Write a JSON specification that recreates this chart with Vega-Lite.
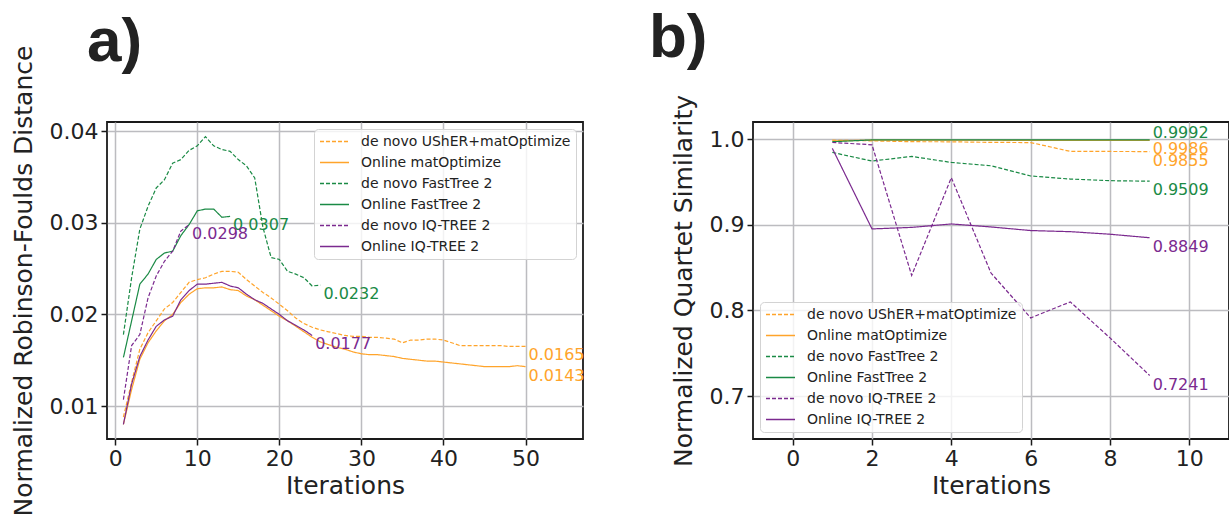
{
  "$schema": "https://vega.github.io/schema/vega-lite/v6.json",
  "background": "white",
  "padding": {"left": 10, "top": 5, "right": 0, "bottom": 0},
  "config": {
    "font": "DejaVu Sans",
    "view": {"stroke": "#1a1a1a", "strokeWidth": 1.8},
    "axis": {
      "labelFont": "DejaVu Sans", "labelFontSize": 22, "labelColor": "#222222",
      "titleFont": "DejaVu Sans", "titleFontSize": 25, "titleFontWeight": "normal", "titleColor": "#222222",
      "gridColor": "#bcbcc0", "gridWidth": 1.5, "gridOpacity": 1,
      "domain": false, "tickColor": "#1a1a1a", "tickWidth": 1.5, "tickSize": 6,
      "labelPadding": 3, "labelFlush": false, "labelOverlap": false, "labelBound": false
    },
    "axisY": {"titlePadding": 13},
    "axisX": {"titlePadding": 4},
    "legend": {
      "labelFont": "DejaVu Sans", "labelFontSize": 14, "labelColor": "#222222", "labelLimit": 400,
      "symbolType": "stroke", "symbolSize": 841, "symbolStrokeWidth": 1.5,
      "strokeColor": "#d3d3d3", "fillColor": "rgba(255,255,255,0.8)", "cornerRadius": 4,
      "padding": 5, "rowPadding": 6, "clipHeight": 15, "labelOffset": 11, "offset": 7
    }
  },
  "datasets": {
    "rf": [
      {"series": "de novo UShER+matOptimize", "iter": 1, "value": 0.0088},
      {"series": "de novo UShER+matOptimize", "iter": 2, "value": 0.0126},
      {"series": "de novo UShER+matOptimize", "iter": 3, "value": 0.0162},
      {"series": "de novo UShER+matOptimize", "iter": 4, "value": 0.0180},
      {"series": "de novo UShER+matOptimize", "iter": 5, "value": 0.0193},
      {"series": "de novo UShER+matOptimize", "iter": 6, "value": 0.0206},
      {"series": "de novo UShER+matOptimize", "iter": 7, "value": 0.0213},
      {"series": "de novo UShER+matOptimize", "iter": 8, "value": 0.0224},
      {"series": "de novo UShER+matOptimize", "iter": 9, "value": 0.0235},
      {"series": "de novo UShER+matOptimize", "iter": 10, "value": 0.0238},
      {"series": "de novo UShER+matOptimize", "iter": 11, "value": 0.0240},
      {"series": "de novo UShER+matOptimize", "iter": 12, "value": 0.0244},
      {"series": "de novo UShER+matOptimize", "iter": 13, "value": 0.0247},
      {"series": "de novo UShER+matOptimize", "iter": 14, "value": 0.0247},
      {"series": "de novo UShER+matOptimize", "iter": 15, "value": 0.0246},
      {"series": "de novo UShER+matOptimize", "iter": 16, "value": 0.0238},
      {"series": "de novo UShER+matOptimize", "iter": 17, "value": 0.0231},
      {"series": "de novo UShER+matOptimize", "iter": 18, "value": 0.0224},
      {"series": "de novo UShER+matOptimize", "iter": 19, "value": 0.0218},
      {"series": "de novo UShER+matOptimize", "iter": 20, "value": 0.0211},
      {"series": "de novo UShER+matOptimize", "iter": 21, "value": 0.0204},
      {"series": "de novo UShER+matOptimize", "iter": 22, "value": 0.0196},
      {"series": "de novo UShER+matOptimize", "iter": 23, "value": 0.0190},
      {"series": "de novo UShER+matOptimize", "iter": 24, "value": 0.0186},
      {"series": "de novo UShER+matOptimize", "iter": 25, "value": 0.0183},
      {"series": "de novo UShER+matOptimize", "iter": 26, "value": 0.0181},
      {"series": "de novo UShER+matOptimize", "iter": 27, "value": 0.0179},
      {"series": "de novo UShER+matOptimize", "iter": 28, "value": 0.0177},
      {"series": "de novo UShER+matOptimize", "iter": 29, "value": 0.0176},
      {"series": "de novo UShER+matOptimize", "iter": 30, "value": 0.0176},
      {"series": "de novo UShER+matOptimize", "iter": 31, "value": 0.0175},
      {"series": "de novo UShER+matOptimize", "iter": 32, "value": 0.0175},
      {"series": "de novo UShER+matOptimize", "iter": 33, "value": 0.0174},
      {"series": "de novo UShER+matOptimize", "iter": 34, "value": 0.0173},
      {"series": "de novo UShER+matOptimize", "iter": 35, "value": 0.0169},
      {"series": "de novo UShER+matOptimize", "iter": 36, "value": 0.0172},
      {"series": "de novo UShER+matOptimize", "iter": 37, "value": 0.0172},
      {"series": "de novo UShER+matOptimize", "iter": 38, "value": 0.0173},
      {"series": "de novo UShER+matOptimize", "iter": 39, "value": 0.0173},
      {"series": "de novo UShER+matOptimize", "iter": 40, "value": 0.0172},
      {"series": "de novo UShER+matOptimize", "iter": 41, "value": 0.0169},
      {"series": "de novo UShER+matOptimize", "iter": 42, "value": 0.0166},
      {"series": "de novo UShER+matOptimize", "iter": 43, "value": 0.0166},
      {"series": "de novo UShER+matOptimize", "iter": 44, "value": 0.0166},
      {"series": "de novo UShER+matOptimize", "iter": 45, "value": 0.0166},
      {"series": "de novo UShER+matOptimize", "iter": 46, "value": 0.0166},
      {"series": "de novo UShER+matOptimize", "iter": 47, "value": 0.0166},
      {"series": "de novo UShER+matOptimize", "iter": 48, "value": 0.0165},
      {"series": "de novo UShER+matOptimize", "iter": 49, "value": 0.0165},
      {"series": "de novo UShER+matOptimize", "iter": 50, "value": 0.0165},
      {"series": "Online matOptimize", "iter": 1, "value": 0.0080},
      {"series": "Online matOptimize", "iter": 2, "value": 0.0118},
      {"series": "Online matOptimize", "iter": 3, "value": 0.0151},
      {"series": "Online matOptimize", "iter": 4, "value": 0.0169},
      {"series": "Online matOptimize", "iter": 5, "value": 0.0182},
      {"series": "Online matOptimize", "iter": 6, "value": 0.0193},
      {"series": "Online matOptimize", "iter": 7, "value": 0.0200},
      {"series": "Online matOptimize", "iter": 8, "value": 0.0213},
      {"series": "Online matOptimize", "iter": 9, "value": 0.0222},
      {"series": "Online matOptimize", "iter": 10, "value": 0.0228},
      {"series": "Online matOptimize", "iter": 11, "value": 0.0229},
      {"series": "Online matOptimize", "iter": 12, "value": 0.0229},
      {"series": "Online matOptimize", "iter": 13, "value": 0.0230},
      {"series": "Online matOptimize", "iter": 14, "value": 0.0227},
      {"series": "Online matOptimize", "iter": 15, "value": 0.0226},
      {"series": "Online matOptimize", "iter": 16, "value": 0.0220},
      {"series": "Online matOptimize", "iter": 17, "value": 0.0216},
      {"series": "Online matOptimize", "iter": 18, "value": 0.0210},
      {"series": "Online matOptimize", "iter": 19, "value": 0.0204},
      {"series": "Online matOptimize", "iter": 20, "value": 0.0198},
      {"series": "Online matOptimize", "iter": 21, "value": 0.0193},
      {"series": "Online matOptimize", "iter": 22, "value": 0.0187},
      {"series": "Online matOptimize", "iter": 23, "value": 0.0181},
      {"series": "Online matOptimize", "iter": 24, "value": 0.0175},
      {"series": "Online matOptimize", "iter": 25, "value": 0.0170},
      {"series": "Online matOptimize", "iter": 26, "value": 0.0167},
      {"series": "Online matOptimize", "iter": 27, "value": 0.0164},
      {"series": "Online matOptimize", "iter": 28, "value": 0.0162},
      {"series": "Online matOptimize", "iter": 29, "value": 0.0159},
      {"series": "Online matOptimize", "iter": 30, "value": 0.0157},
      {"series": "Online matOptimize", "iter": 31, "value": 0.0156},
      {"series": "Online matOptimize", "iter": 32, "value": 0.0156},
      {"series": "Online matOptimize", "iter": 33, "value": 0.0155},
      {"series": "Online matOptimize", "iter": 34, "value": 0.0154},
      {"series": "Online matOptimize", "iter": 35, "value": 0.0152},
      {"series": "Online matOptimize", "iter": 36, "value": 0.0151},
      {"series": "Online matOptimize", "iter": 37, "value": 0.0150},
      {"series": "Online matOptimize", "iter": 38, "value": 0.0149},
      {"series": "Online matOptimize", "iter": 39, "value": 0.0149},
      {"series": "Online matOptimize", "iter": 40, "value": 0.0148},
      {"series": "Online matOptimize", "iter": 41, "value": 0.0147},
      {"series": "Online matOptimize", "iter": 42, "value": 0.0146},
      {"series": "Online matOptimize", "iter": 43, "value": 0.0145},
      {"series": "Online matOptimize", "iter": 44, "value": 0.0144},
      {"series": "Online matOptimize", "iter": 45, "value": 0.0143},
      {"series": "Online matOptimize", "iter": 46, "value": 0.0143},
      {"series": "Online matOptimize", "iter": 47, "value": 0.0143},
      {"series": "Online matOptimize", "iter": 48, "value": 0.0143},
      {"series": "Online matOptimize", "iter": 49, "value": 0.0144},
      {"series": "Online matOptimize", "iter": 50, "value": 0.0143},
      {"series": "de novo FastTree 2", "iter": 1, "value": 0.0178},
      {"series": "de novo FastTree 2", "iter": 2, "value": 0.0240},
      {"series": "de novo FastTree 2", "iter": 3, "value": 0.0293},
      {"series": "de novo FastTree 2", "iter": 4, "value": 0.0318},
      {"series": "de novo FastTree 2", "iter": 5, "value": 0.0338},
      {"series": "de novo FastTree 2", "iter": 6, "value": 0.0347},
      {"series": "de novo FastTree 2", "iter": 7, "value": 0.0365},
      {"series": "de novo FastTree 2", "iter": 8, "value": 0.0369},
      {"series": "de novo FastTree 2", "iter": 9, "value": 0.0379},
      {"series": "de novo FastTree 2", "iter": 10, "value": 0.0384},
      {"series": "de novo FastTree 2", "iter": 11, "value": 0.0394},
      {"series": "de novo FastTree 2", "iter": 12, "value": 0.0384},
      {"series": "de novo FastTree 2", "iter": 13, "value": 0.0380},
      {"series": "de novo FastTree 2", "iter": 14, "value": 0.0378},
      {"series": "de novo FastTree 2", "iter": 15, "value": 0.0369},
      {"series": "de novo FastTree 2", "iter": 16, "value": 0.0362},
      {"series": "de novo FastTree 2", "iter": 17, "value": 0.0349},
      {"series": "de novo FastTree 2", "iter": 18, "value": 0.0295},
      {"series": "de novo FastTree 2", "iter": 19, "value": 0.0262},
      {"series": "de novo FastTree 2", "iter": 20, "value": 0.0260},
      {"series": "de novo FastTree 2", "iter": 21, "value": 0.0247},
      {"series": "de novo FastTree 2", "iter": 22, "value": 0.0244},
      {"series": "de novo FastTree 2", "iter": 23, "value": 0.0240},
      {"series": "de novo FastTree 2", "iter": 24, "value": 0.0231},
      {"series": "de novo FastTree 2", "iter": 25, "value": 0.0232},
      {"series": "Online FastTree 2", "iter": 1, "value": 0.0153},
      {"series": "Online FastTree 2", "iter": 2, "value": 0.0193},
      {"series": "Online FastTree 2", "iter": 3, "value": 0.0233},
      {"series": "Online FastTree 2", "iter": 4, "value": 0.0244},
      {"series": "Online FastTree 2", "iter": 5, "value": 0.0260},
      {"series": "Online FastTree 2", "iter": 6, "value": 0.0267},
      {"series": "Online FastTree 2", "iter": 7, "value": 0.0269},
      {"series": "Online FastTree 2", "iter": 8, "value": 0.0286},
      {"series": "Online FastTree 2", "iter": 9, "value": 0.0298},
      {"series": "Online FastTree 2", "iter": 10, "value": 0.0313},
      {"series": "Online FastTree 2", "iter": 11, "value": 0.0315},
      {"series": "Online FastTree 2", "iter": 12, "value": 0.0315},
      {"series": "Online FastTree 2", "iter": 13, "value": 0.0306},
      {"series": "Online FastTree 2", "iter": 14, "value": 0.0307},
      {"series": "de novo IQ-TREE 2", "iter": 1, "value": 0.0107},
      {"series": "de novo IQ-TREE 2", "iter": 2, "value": 0.0166},
      {"series": "de novo IQ-TREE 2", "iter": 3, "value": 0.0178},
      {"series": "de novo IQ-TREE 2", "iter": 4, "value": 0.0218},
      {"series": "de novo IQ-TREE 2", "iter": 5, "value": 0.0242},
      {"series": "de novo IQ-TREE 2", "iter": 6, "value": 0.0258},
      {"series": "de novo IQ-TREE 2", "iter": 7, "value": 0.0269},
      {"series": "de novo IQ-TREE 2", "iter": 8, "value": 0.0291},
      {"series": "de novo IQ-TREE 2", "iter": 9, "value": 0.0298},
      {"series": "Online IQ-TREE 2", "iter": 1, "value": 0.0080},
      {"series": "Online IQ-TREE 2", "iter": 2, "value": 0.0124},
      {"series": "Online IQ-TREE 2", "iter": 3, "value": 0.0154},
      {"series": "Online IQ-TREE 2", "iter": 4, "value": 0.0172},
      {"series": "Online IQ-TREE 2", "iter": 5, "value": 0.0187},
      {"series": "Online IQ-TREE 2", "iter": 6, "value": 0.0194},
      {"series": "Online IQ-TREE 2", "iter": 7, "value": 0.0198},
      {"series": "Online IQ-TREE 2", "iter": 8, "value": 0.0216},
      {"series": "Online IQ-TREE 2", "iter": 9, "value": 0.0226},
      {"series": "Online IQ-TREE 2", "iter": 10, "value": 0.0233},
      {"series": "Online IQ-TREE 2", "iter": 11, "value": 0.0233},
      {"series": "Online IQ-TREE 2", "iter": 12, "value": 0.0234},
      {"series": "Online IQ-TREE 2", "iter": 13, "value": 0.0235},
      {"series": "Online IQ-TREE 2", "iter": 14, "value": 0.0231},
      {"series": "Online IQ-TREE 2", "iter": 15, "value": 0.0229},
      {"series": "Online IQ-TREE 2", "iter": 16, "value": 0.0222},
      {"series": "Online IQ-TREE 2", "iter": 17, "value": 0.0216},
      {"series": "Online IQ-TREE 2", "iter": 18, "value": 0.0212},
      {"series": "Online IQ-TREE 2", "iter": 19, "value": 0.0206},
      {"series": "Online IQ-TREE 2", "iter": 20, "value": 0.0200},
      {"series": "Online IQ-TREE 2", "iter": 21, "value": 0.0193},
      {"series": "Online IQ-TREE 2", "iter": 22, "value": 0.0188},
      {"series": "Online IQ-TREE 2", "iter": 23, "value": 0.0183},
      {"series": "Online IQ-TREE 2", "iter": 24, "value": 0.0177}
    ],
    "rfLabels": [
      {"series": "de novo UShER+matOptimize", "iter": 50, "value": 0.0165, "label": "0.0165"},
      {"series": "Online matOptimize", "iter": 50, "value": 0.0143, "label": "0.0143"},
      {"series": "de novo FastTree 2", "iter": 25, "value": 0.0232, "label": "0.0232"},
      {"series": "Online FastTree 2", "iter": 14, "value": 0.0307, "label": "0.0307"},
      {"series": "de novo IQ-TREE 2", "iter": 9, "value": 0.0298, "label": "0.0298"},
      {"series": "Online IQ-TREE 2", "iter": 24, "value": 0.0177, "label": "0.0177"}
    ],
    "qs": [
      {"series": "de novo UShER+matOptimize", "iter": 1, "value": 0.9988},
      {"series": "de novo UShER+matOptimize", "iter": 2, "value": 0.9980},
      {"series": "de novo UShER+matOptimize", "iter": 3, "value": 0.9970},
      {"series": "de novo UShER+matOptimize", "iter": 4, "value": 0.9969},
      {"series": "de novo UShER+matOptimize", "iter": 5, "value": 0.9962},
      {"series": "de novo UShER+matOptimize", "iter": 6, "value": 0.9960},
      {"series": "de novo UShER+matOptimize", "iter": 7, "value": 0.9857},
      {"series": "de novo UShER+matOptimize", "iter": 8, "value": 0.9856},
      {"series": "de novo UShER+matOptimize", "iter": 9, "value": 0.9855},
      {"series": "Online matOptimize", "iter": 1, "value": 0.9980},
      {"series": "Online matOptimize", "iter": 2, "value": 0.9988},
      {"series": "Online matOptimize", "iter": 3, "value": 0.9988},
      {"series": "Online matOptimize", "iter": 4, "value": 0.9987},
      {"series": "Online matOptimize", "iter": 5, "value": 0.9987},
      {"series": "Online matOptimize", "iter": 6, "value": 0.9986},
      {"series": "Online matOptimize", "iter": 7, "value": 0.9986},
      {"series": "Online matOptimize", "iter": 8, "value": 0.9986},
      {"series": "Online matOptimize", "iter": 9, "value": 0.9986},
      {"series": "de novo FastTree 2", "iter": 1, "value": 0.9845},
      {"series": "de novo FastTree 2", "iter": 2, "value": 0.9744},
      {"series": "de novo FastTree 2", "iter": 3, "value": 0.9798},
      {"series": "de novo FastTree 2", "iter": 4, "value": 0.9728},
      {"series": "de novo FastTree 2", "iter": 5, "value": 0.9689},
      {"series": "de novo FastTree 2", "iter": 6, "value": 0.9570},
      {"series": "de novo FastTree 2", "iter": 7, "value": 0.9534},
      {"series": "de novo FastTree 2", "iter": 8, "value": 0.9515},
      {"series": "de novo FastTree 2", "iter": 9, "value": 0.9509},
      {"series": "Online FastTree 2", "iter": 1, "value": 0.9970},
      {"series": "Online FastTree 2", "iter": 2, "value": 0.9991},
      {"series": "Online FastTree 2", "iter": 3, "value": 0.9992},
      {"series": "Online FastTree 2", "iter": 4, "value": 0.9992},
      {"series": "Online FastTree 2", "iter": 5, "value": 0.9992},
      {"series": "Online FastTree 2", "iter": 6, "value": 0.9992},
      {"series": "Online FastTree 2", "iter": 7, "value": 0.9992},
      {"series": "Online FastTree 2", "iter": 8, "value": 0.9992},
      {"series": "Online FastTree 2", "iter": 9, "value": 0.9992},
      {"series": "de novo IQ-TREE 2", "iter": 1, "value": 0.9961},
      {"series": "de novo IQ-TREE 2", "iter": 2, "value": 0.9934},
      {"series": "de novo IQ-TREE 2", "iter": 3, "value": 0.8409},
      {"series": "de novo IQ-TREE 2", "iter": 4, "value": 0.9550},
      {"series": "de novo IQ-TREE 2", "iter": 5, "value": 0.8437},
      {"series": "de novo IQ-TREE 2", "iter": 6, "value": 0.7913},
      {"series": "de novo IQ-TREE 2", "iter": 7, "value": 0.8100},
      {"series": "de novo IQ-TREE 2", "iter": 8, "value": 0.7680},
      {"series": "de novo IQ-TREE 2", "iter": 9, "value": 0.7241},
      {"series": "Online IQ-TREE 2", "iter": 1, "value": 0.9892},
      {"series": "Online IQ-TREE 2", "iter": 2, "value": 0.8952},
      {"series": "Online IQ-TREE 2", "iter": 3, "value": 0.8970},
      {"series": "Online IQ-TREE 2", "iter": 4, "value": 0.9010},
      {"series": "Online IQ-TREE 2", "iter": 5, "value": 0.8975},
      {"series": "Online IQ-TREE 2", "iter": 6, "value": 0.8933},
      {"series": "Online IQ-TREE 2", "iter": 7, "value": 0.8920},
      {"series": "Online IQ-TREE 2", "iter": 8, "value": 0.8890},
      {"series": "Online IQ-TREE 2", "iter": 9, "value": 0.8849}
    ],
    "qsLabels": [
      {"series": "Online FastTree 2", "iter": 9, "value": 0.9992, "label": "0.9992"},
      {"series": "Online matOptimize", "iter": 9, "value": 0.9986, "label": "0.9986"},
      {"series": "de novo UShER+matOptimize", "iter": 9, "value": 0.9855, "label": "0.9855"},
      {"series": "de novo FastTree 2", "iter": 9, "value": 0.9509, "label": "0.9509"},
      {"series": "Online IQ-TREE 2", "iter": 9, "value": 0.8849, "label": "0.8849"},
      {"series": "de novo IQ-TREE 2", "iter": 9, "value": 0.7241, "label": "0.7241"}
    ]
  },
  "hconcat": [
    {
      "width": 476,
      "height": 317,
      "title": {"text": "a)", "anchor": "start", "frame": "group", "font": "Liberation Sans", "fontSize": 62, "fontWeight": "bold", "color": "#222222", "baseline": "alphabetic", "dx": -20, "offset": -78},
      "layer": [
        {
          "data": {"name": "rf"},
          "mark": {"type": "line", "strokeWidth": 1.2},
          "encoding": {
            "x": {"field": "iter", "type": "quantitative", "scale": {"domain": [-1, 57], "nice": false, "zero": false}, "axis": {"values": [0, 10, 20, 30, 40, 50], "title": "Iterations"}},
            "y": {"field": "value", "type": "quantitative", "scale": {"domain": [0.0064, 0.041], "nice": false, "zero": false}, "axis": {"values": [0.01, 0.02, 0.03, 0.04], "format": ".2f", "title": "Normalized Robinson-Foulds Distance"}},
            "color": {"field": "series", "type": "nominal", "scale": {"domain": ["de novo UShER+matOptimize", "Online matOptimize", "de novo FastTree 2", "Online FastTree 2", "de novo IQ-TREE 2", "Online IQ-TREE 2"], "range": ["#ffa42b", "#ffa42b", "#1a8a45", "#1a8a45", "#7b2a8f", "#7b2a8f"]}, "legend": {"title": null, "orient": "top-right"}},
            "strokeDash": {"field": "series", "type": "nominal", "scale": {"domain": ["de novo UShER+matOptimize", "Online matOptimize", "de novo FastTree 2", "Online FastTree 2", "de novo IQ-TREE 2", "Online IQ-TREE 2"], "range": [[4, 2], [1, 0], [4, 2], [1, 0], [4, 2], [1, 0]]}, "legend": {"title": null, "orient": "top-right"}}
          }
        },
        {
          "data": {"name": "rfLabels"},
          "mark": {"type": "text", "align": "left", "baseline": "top", "dx": 3, "dy": 1, "fontSize": 16, "font": "DejaVu Sans"},
          "encoding": {
            "x": {"field": "iter", "type": "quantitative"},
            "y": {"field": "value", "type": "quantitative"},
            "text": {"field": "label"},
            "fill": {"field": "series", "type": "nominal", "scale": {"domain": ["de novo UShER+matOptimize", "Online matOptimize", "de novo FastTree 2", "Online FastTree 2", "de novo IQ-TREE 2", "Online IQ-TREE 2"], "range": ["#ffa42b", "#ffa42b", "#1a8a45", "#1a8a45", "#7b2a8f", "#7b2a8f"]}, "legend": null}
          }
        }
      ]
    },
    {
      "width": 476,
      "height": 317,
      "title": {"text": "b)", "anchor": "start", "frame": "group", "font": "Liberation Sans", "fontSize": 62, "fontWeight": "bold", "color": "#222222", "baseline": "alphabetic", "dx": -104, "offset": -24},
      "layer": [
        {
          "data": {"name": "qs"},
          "mark": {"type": "line", "strokeWidth": 1.2},
          "encoding": {
            "x": {"field": "iter", "type": "quantitative", "scale": {"domain": [-1, 11], "nice": false, "zero": false}, "axis": {"values": [0, 2, 4, 6, 8, 10], "title": "Iterations"}},
            "y": {"field": "value", "type": "quantitative", "scale": {"domain": [0.65, 1.02], "nice": false, "zero": false}, "axis": {"values": [0.7, 0.8, 0.9, 1.0], "format": ".1f", "title": "Normalized Quartet Similarity"}},
            "color": {"field": "series", "type": "nominal", "scale": {"domain": ["de novo UShER+matOptimize", "Online matOptimize", "de novo FastTree 2", "Online FastTree 2", "de novo IQ-TREE 2", "Online IQ-TREE 2"], "range": ["#ffa42b", "#ffa42b", "#1a8a45", "#1a8a45", "#7b2a8f", "#7b2a8f"]}, "legend": {"title": null, "orient": "bottom-left"}},
            "strokeDash": {"field": "series", "type": "nominal", "scale": {"domain": ["de novo UShER+matOptimize", "Online matOptimize", "de novo FastTree 2", "Online FastTree 2", "de novo IQ-TREE 2", "Online IQ-TREE 2"], "range": [[4, 2], [1, 0], [4, 2], [1, 0], [4, 2], [1, 0]]}, "legend": {"title": null, "orient": "bottom-left"}}
          }
        },
        {
          "data": {"name": "qsLabels"},
          "transform": [{"filter": "datum.label != '0.9992'"}],
          "mark": {"type": "text", "align": "left", "baseline": "top", "dx": 3, "dy": 1, "fontSize": 16, "font": "DejaVu Sans"},
          "encoding": {
            "x": {"field": "iter", "type": "quantitative"},
            "y": {"field": "value", "type": "quantitative"},
            "text": {"field": "label"},
            "fill": {"field": "series", "type": "nominal", "scale": {"domain": ["de novo UShER+matOptimize", "Online matOptimize", "de novo FastTree 2", "Online FastTree 2", "de novo IQ-TREE 2", "Online IQ-TREE 2"], "range": ["#ffa42b", "#ffa42b", "#1a8a45", "#1a8a45", "#7b2a8f", "#7b2a8f"]}, "legend": null}
          }
        },
        {
          "data": {"name": "qsLabels"},
          "transform": [{"filter": "datum.label == '0.9992'"}],
          "mark": {"type": "text", "align": "left", "baseline": "bottom", "dx": 3, "dy": 1, "fontSize": 16, "font": "DejaVu Sans"},
          "encoding": {
            "x": {"field": "iter", "type": "quantitative"},
            "y": {"field": "value", "type": "quantitative"},
            "text": {"field": "label"},
            "fill": {"field": "series", "type": "nominal", "scale": {"domain": ["de novo UShER+matOptimize", "Online matOptimize", "de novo FastTree 2", "Online FastTree 2", "de novo IQ-TREE 2", "Online IQ-TREE 2"], "range": ["#ffa42b", "#ffa42b", "#1a8a45", "#1a8a45", "#7b2a8f", "#7b2a8f"]}, "legend": null}
          }
        }
      ]
    }
  ],
  "spacing": 170,
  "bounds": "flush",
  "resolve": {"scale": {"color": "independent", "strokeDash": "independent", "fill": "independent"}, "legend": {"color": "independent", "strokeDash": "independent"}}
}
